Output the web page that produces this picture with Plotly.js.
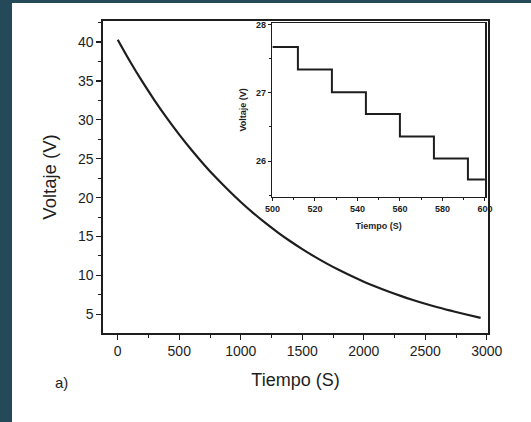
<!DOCTYPE html>
<html><head><meta charset="utf-8">
<script src="https://cdn.plot.ly/plotly-3.0.1.min.js"></script>
<style>
html,body{margin:0;padding:0;background:#244a59;width:531px;height:422px;overflow:hidden}
#plot{position:absolute;left:12px;top:3px;width:519px;height:419px;background:#fff}
</style></head><body><div id="plot"></div>
<script>
// Main curve: Tiempo (S) vs Voltaje (V)
const tiempo  = [0, 100, 200, 300, 400, 500, 600, 700, 800, 900, 1000, 1100, 1200, 1300, 1400, 1500, 1600, 1700, 1800, 1900, 2000, 2100, 2200, 2300, 2400, 2500, 2600, 2700, 2800, 2950];
const voltaje = [40.3, 37.5, 34.9, 32.48, 30.22, 28.10, 26.12, 24.27, 22.54, 20.94, 19.44, 18.04, 16.74, 15.54, 14.42, 13.38, 12.42, 11.52, 10.69, 9.92, 9.2, 8.54, 7.93, 7.37, 6.85, 6.36, 5.91, 5.50, 5.11, 4.55];
// Inset: step detail between 500 and 600 s
const insetTiempo  = [500, 512, 528, 544, 560, 576, 592, 600];
const insetVoltaje = [27.67, 27.34, 27.01, 26.69, 26.36, 26.04, 25.73, 25.73];
const mainXTicks = [0, 500, 1000, 1500, 2000, 2500, 3000];
const mainYTicks = [5, 10, 15, 20, 25, 30, 35, 40];
const insetXTicks = [500, 520, 540, 560, 580, 600];
const insetYTicks = [26, 27, 28];

const ink = '#1e1e1e';
const fnt = 'Liberation Sans, Arial, sans-serif';

const traces = [
  {x: tiempo, y: voltaje, type: 'scatter', mode: 'lines',
   line: {color: ink, width: 2.2, shape: 'spline', smoothing: 1},
   xaxis: 'x', yaxis: 'y', hoverinfo: 'skip'},
  {x: insetTiempo, y: insetVoltaje, type: 'scatter', mode: 'lines',
   line: {color: ink, width: 2, shape: 'hv'},
   xaxis: 'x2', yaxis: 'y2', hoverinfo: 'skip'}
];

const layout = {
  width: 519, height: 419,
  margin: {l: 91, r: 43, t: 18, b: 89},
  paper_bgcolor: '#ffffff', plot_bgcolor: '#ffffff',
  showlegend: false,
  font: {family: fnt, color: ink},
  xaxis: {
    domain: [0, 1], range: [-120, 3010],
    tickvals: mainXTicks, ticktext: mainXTicks.map(String),
    ticks: 'outside', ticklen: 5, tickwidth: 1.2, tickcolor: ink,
    minor: {tickvals: [250, 750, 1250, 1750, 2250, 2750], ticks: 'outside', ticklen: 3, tickcolor: ink, tickwidth: 1},
    showline: true, linecolor: ink, linewidth: 1.6, mirror: true,
    showgrid: false, zeroline: false,
    tickfont: {size: 14, family: fnt, color: ink},
    title: {text: 'Tiempo (S)', font: {size: 18, family: fnt, color: ink}, standoff: 15}
  },
  yaxis: {
    domain: [0, 1], range: [2.6, 42.7],
    tickvals: mainYTicks, ticktext: mainYTicks.map(String),
    ticks: 'outside', ticklen: 5, tickwidth: 1.2, tickcolor: ink,
    minor: {tickvals: [7.5, 12.5, 17.5, 22.5, 27.5, 32.5, 37.5, 42.5], ticks: 'outside', ticklen: 3, tickcolor: ink, tickwidth: 1},
    showline: true, linecolor: ink, linewidth: 1.6, mirror: true,
    showgrid: false, zeroline: false,
    tickfont: {size: 14, family: fnt, color: ink},
    title: {text: 'Voltaje (V)', font: {size: 18.5, family: fnt, color: ink}, standoff: 16}
  },
  xaxis2: {
    domain: [0.44, 0.992], anchor: 'y2', range: [500, 600],
    tickvals: insetXTicks, ticktext: insetXTicks.map(String),
    ticks: 'outside', ticklen: 3, tickwidth: 1, tickcolor: ink,
    minor: {tickvals: [510, 530, 550, 570, 590], ticks: 'outside', ticklen: 2, tickcolor: ink, tickwidth: 1},
    showline: true, linecolor: ink, linewidth: 1.6, mirror: true,
    showgrid: false, zeroline: false,
    tickfont: {size: 9, family: fnt, color: ink, weight: 'bold'},
    title: {text: 'Tiempo (S)', font: {size: 9, family: fnt, color: ink, weight: 'bold'}, standoff: 9}
  },
  yaxis2: {
    domain: [0.437, 0.993], anchor: 'x2', range: [25.48, 28.02],
    tickvals: insetYTicks, ticktext: insetYTicks.map(String),
    ticks: 'outside', ticklen: 3, tickwidth: 1, tickcolor: ink,
    minor: {tickvals: [25.5, 26.5, 27.5], ticks: 'outside', ticklen: 2, tickcolor: ink, tickwidth: 1},
    showline: true, linecolor: ink, linewidth: 1.6, mirror: true,
    showgrid: false, zeroline: false,
    tickfont: {size: 9, family: fnt, color: ink, weight: 'bold'},
    title: {text: 'Voltaje (V)', font: {size: 9, family: fnt, color: ink, weight: 'bold'}, standoff: 8}
  },
  annotations: [
    {text: 'a)', xref: 'paper', yref: 'paper', x: -0.109, y: -0.16,
     xanchor: 'center', yanchor: 'middle', showarrow: false,
     font: {size: 15, family: fnt, color: ink}}
  ]
};

Plotly.newPlot('plot', traces, layout, {displayModeBar: false, staticPlot: true});
</script></body></html>
